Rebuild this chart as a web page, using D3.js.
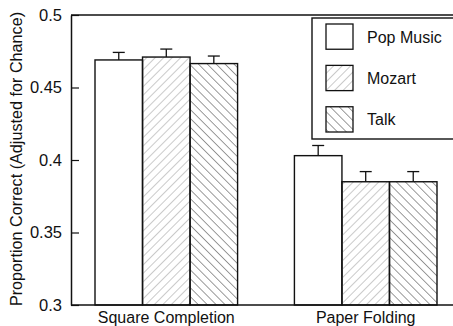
<!DOCTYPE html>
<html><head><meta charset="utf-8">
<script src="https://cdn.jsdelivr.net/npm/d3@7"></script>
<style>body{margin:0;background:#fff}svg{display:block}text{font-family:"Liberation Sans",Arial,sans-serif;fill:#111}</style>
</head><body>
<script>
const categories = ["Square Completion", "Paper Folding"];
const seriesNames = ["Pop Music", "Mozart", "Talk"];
const popMusic = [0.469, 0.403];
const mozart = [0.471, 0.385];
const talk = [0.4665, 0.385];
const popErr = [0.0052, 0.0070];
const mozartErr = [0.0055, 0.0070];
const talkErr = [0.0052, 0.0070];
const yTicks = [0.3, 0.35, 0.4, 0.45, 0.5];
const yTickLabels = ["0.3", "0.35", "0.4", "0.45", "0.5"];

const values = [popMusic, mozart, talk];
const errs = [popErr, mozartErr, talkErr];

const W = 453, H = 326;
const svg = d3.select("body").append("svg").attr("width", W).attr("height", H);
const defs = svg.append("defs");
defs.append("pattern").attr("id","hatchR").attr("patternUnits","userSpaceOnUse")
  .attr("width",6).attr("height",6).attr("patternTransform","rotate(45)")
  .append("line").attr("x1",0).attr("y1",0).attr("x2",0).attr("y2",6)
  .attr("stroke","#7a7a7a").attr("stroke-width",0.8);
defs.append("pattern").attr("id","hatchL").attr("patternUnits","userSpaceOnUse")
  .attr("width",6.3).attr("height",6.3).attr("patternTransform","rotate(-45)")
  .append("line").attr("x1",0).attr("y1",0).attr("x2",0).attr("y2",6.3)
  .attr("stroke","#222").attr("stroke-width",0.9);
const fills = ["#fff", "url(#hatchR)", "url(#hatchL)"];

const mLeft = 71, mTop = 15, mBottom = 305, mRight = 453;
const y = d3.scaleLinear().domain([0.3, 0.5]).range([mBottom, mTop]);
const x0 = d3.scaleBand().domain(categories).range([95, 437]).paddingInner(0.285).paddingOuter(0);
const x1 = d3.scaleBand().domain(seriesNames).range([0, x0.bandwidth()]);

// bars
categories.forEach((c, ci) => {
  seriesNames.forEach((s, si) => {
    const bx = x0(c) + x1(s), bw = x1.bandwidth();
    const v = values[si][ci], e = errs[si][ci];
    const cx = bx + bw / 2;
    svg.append("line").attr("x1", cx).attr("x2", cx).attr("y1", y(v)).attr("y2", y(v + e))
      .attr("stroke", "#111").attr("stroke-width", 1.3);
    svg.append("line").attr("x1", cx - 6).attr("x2", cx + 6).attr("y1", y(v + e)).attr("y2", y(v + e))
      .attr("stroke", "#111").attr("stroke-width", 1.3);
    svg.append("rect").attr("x", bx).attr("y", y(v)).attr("width", bw).attr("height", mBottom - y(v))
      .attr("fill", fills[si]).attr("stroke", "#111").attr("stroke-width", 1.4);
  });
});

// y axis
const yAxis = d3.axisLeft(y).tickValues(yTicks).tickFormat((d, i) => yTickLabels[i]).tickSizeInner(-8).tickSizeOuter(0).tickPadding(9);
const ga = svg.append("g").attr("transform", `translate(${mLeft},0)`).call(yAxis);
ga.select(".domain").attr("stroke", "#111").attr("stroke-width", 1.5);
ga.selectAll(".tick line").attr("stroke", "#111").attr("stroke-width", 1.2);
ga.selectAll(".tick text").attr("font-size", 16.5).attr("fill", "#111").attr("font-family", '"Liberation Sans",Arial,sans-serif');

// top and bottom lines
svg.append("line").attr("x1", mLeft).attr("x2", mRight).attr("y1", y(0.5)).attr("y2", y(0.5)).attr("stroke", "#111").attr("stroke-width", 1.5);
svg.append("line").attr("x1", mLeft).attr("x2", mRight).attr("y1", y(0.3)).attr("y2", y(0.3)).attr("stroke", "#111").attr("stroke-width", 1.5);

// category labels
categories.forEach(c => {
  svg.append("text").attr("x", x0(c) + x0.bandwidth() / 2).attr("y", 323).attr("text-anchor", "middle")
    .attr("font-size", 16).text(c);
});

// y title
svg.append("text").attr("transform", `translate(22,${(mTop + mBottom) / 2 - 1}) rotate(-90)`)
  .attr("text-anchor", "middle").attr("font-size", 16.2).text("Proportion Correct (Adjusted for Chance)");

// legend
svg.append("rect").attr("x", 312).attr("y", 18).attr("width", 150).attr("height", 121)
  .attr("fill", "#fff").attr("stroke", "#111").attr("stroke-width", 1.4);
const legY = d3.scaleBand().domain(seriesNames).range([24, 132]).paddingInner(0.39);
seriesNames.forEach((s, si) => {
  svg.append("rect").attr("x", 326).attr("y", legY(s)).attr("width", 27).attr("height", legY.bandwidth())
    .attr("fill", fills[si]).attr("stroke", "#111").attr("stroke-width", 1.3);
  svg.append("text").attr("x", 367).attr("y", legY(s) + legY.bandwidth() / 2 + 6).attr("font-size", 16).text(s);
});
</script>
</body></html>
